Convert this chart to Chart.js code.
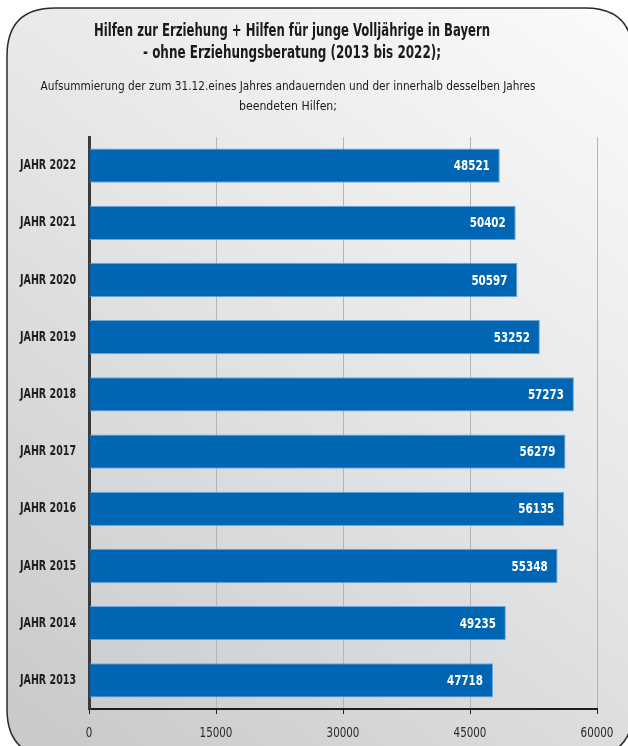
<!DOCTYPE html>
<html><head><meta charset="utf-8">
<script src="https://cdn.jsdelivr.net/npm/chart.js@4"></script>
<style>html,body{margin:0;padding:0;background:#fff;}#wrap{width:628px;height:746px;position:relative;}</style>
</head><body><div id="wrap"><canvas id="c" width="628" height="746"></canvas></div>
<script>
const categories = ['JAHR 2022','JAHR 2021','JAHR 2020','JAHR 2019','JAHR 2018','JAHR 2017','JAHR 2016','JAHR 2015','JAHR 2014','JAHR 2013'];
const values = [48521, 50402, 50597, 53252, 57273, 56279, 56135, 55348, 49235, 47718];
const xTicks = [0, 15000, 30000, 45000, 60000];
const titleLines = ['Hilfen zur Erziehung + Hilfen für junge Volljährige in Bayern', '- ohne Erziehungsberatung (2013 bis 2022);'];
const subtitleLines = ['Aufsummierung der zum 31.12.eines Jahres andauernden und der innerhalb desselben Jahres', 'beendeten Hilfen;'];

const FONT = "'DejaVu Sans Condensed', 'Liberation Sans Narrow', sans-serif";

// draw text squeezed horizontally by a factor (Calibri-like narrow look)
function squeezeText(ctx, text, x, y, sx) {
  ctx.save();
  ctx.translate(x, y);
  ctx.scale(sx, 1);
  ctx.fillText(text, 0, 0);
  ctx.restore();
}
function fitText(ctx, text, x, y, targetW) {
  const w = ctx.measureText(text).width;
  squeezeText(ctx, text, x, y, Math.min(1, targetW / w));
}

const framePlugin = {
  id: 'frame',
  beforeDraw(chart) {
    const ctx = chart.ctx;
    const x0 = 7, y0 = 8, x1 = 633, y1 = 757, r = 48;
    ctx.save();
    ctx.beginPath();
    ctx.moveTo(x0 + r, y0);
    ctx.lineTo(x1 - r, y0);
    ctx.quadraticCurveTo(x1, y0, x1, y0 + r);
    ctx.lineTo(x1, y1 - r);
    ctx.quadraticCurveTo(x1, y1, x1 - r, y1);
    ctx.lineTo(x0 + r, y1);
    ctx.quadraticCurveTo(x0, y1, x0, y1 - r);
    ctx.lineTo(x0, y0 + r);
    ctx.quadraticCurveTo(x0, y0, x0 + r, y0);
    ctx.closePath();
    const g = ctx.createLinearGradient(620, 0, 60, 746);
    g.addColorStop(0, '#fbfbfb');
    g.addColorStop(0.45, '#e6e7e9');
    g.addColorStop(1, '#c9cacc');
    ctx.fillStyle = g;
    ctx.fill();
    ctx.lineWidth = 1.5;
    ctx.strokeStyle = '#2b2b2b';
    ctx.stroke();
    // titles
    ctx.fillStyle = '#1a1a1a';
    ctx.textAlign = 'center';
    ctx.textBaseline = 'middle';
    ctx.font = 'bold 18px ' + FONT;
    fitText(ctx, titleLines[0], 292, 31, 396);
    fitText(ctx, titleLines[1], 292, 53, 298);
    ctx.font = '13px ' + FONT;
    fitText(ctx, subtitleLines[0], 288, 87, 495);
    fitText(ctx, subtitleLines[1], 288, 107, 98);
    ctx.restore();
  }
};

const labelPlugin = {
  id: 'barLabels',
  afterDatasetsDraw(chart) {
    const ctx = chart.ctx;
    const meta = chart.getDatasetMeta(0);
    ctx.save();
    ctx.fillStyle = '#ffffff';
    ctx.font = 'bold 14px ' + FONT;
    ctx.textAlign = 'right';
    ctx.textBaseline = 'middle';
    meta.data.forEach((bar, i) => {
      fitText(ctx, String(chart.data.datasets[0].data[i]), bar.x - 10, bar.y + 1, 36);
    });
    ctx.restore();
  },
  afterDraw(chart) {
    const ctx = chart.ctx;
    const ys = chart.scales.y, xs = chart.scales.x;
    ctx.save();
    ctx.textBaseline = 'middle';
    // category labels
    ctx.fillStyle = '#1e1e1e';
    ctx.font = 'bold 14px ' + FONT;
    ctx.textAlign = 'right';
    ys.ticks.forEach((t, i) => {
      fitText(ctx, String(chart.data.labels[i]), ys.right - 13, ys.getPixelForTick(i), 56);
    });
    // value axis labels
    ctx.fillStyle = '#2a2a2a';
    ctx.font = '14px ' + FONT;
    ctx.textAlign = 'center';
    xs.ticks.forEach((t, i) => {
      squeezeText(ctx, String(t.value), xs.getPixelForTick(i), xs.top + 24, 0.82);
    });
    ctx.restore();
  }
};

new Chart(document.getElementById('c'), {
  type: 'bar',
  data: {
    labels: categories,
    datasets: [{
      data: values,
      backgroundColor: '#0066b3',
      borderColor: '#6fa8dc',
      borderWidth: 1,
      borderSkipped: 'start',
      categoryPercentage: 1,
      barPercentage: 0.6
    }]
  },
  options: {
    indexAxis: 'y',
    responsive: false,
    animation: false,
    devicePixelRatio: 1,
    layout: { padding: { left: 0, top: 137, right: 31, bottom: 0 } },
    plugins: { legend: { display: false }, tooltip: { enabled: false }, title: { display: false } },
    scales: {
      x: {
        min: 0, max: 60000,
        afterBuildTicks(scale) { scale.ticks = xTicks.map(v => ({ value: v })); },
        afterFit(scale) { scale.height = 37; },
        grid: { color: '#b4b5b7', lineWidth: 1, tickLength: 5, tickColor: '#222', drawOnChartArea: true },
        border: { display: true, color: '#1e1e1e', width: 2 },
        ticks: { display: false }
      },
      y: {
        afterFit(scale) { scale.width = 89; },
        grid: { display: false, drawTicks: false },
        border: { display: true, color: '#3a3a3a', width: 3 },
        ticks: { display: false }
      }
    }
  },
  plugins: [framePlugin, labelPlugin]
});
</script></body></html>
